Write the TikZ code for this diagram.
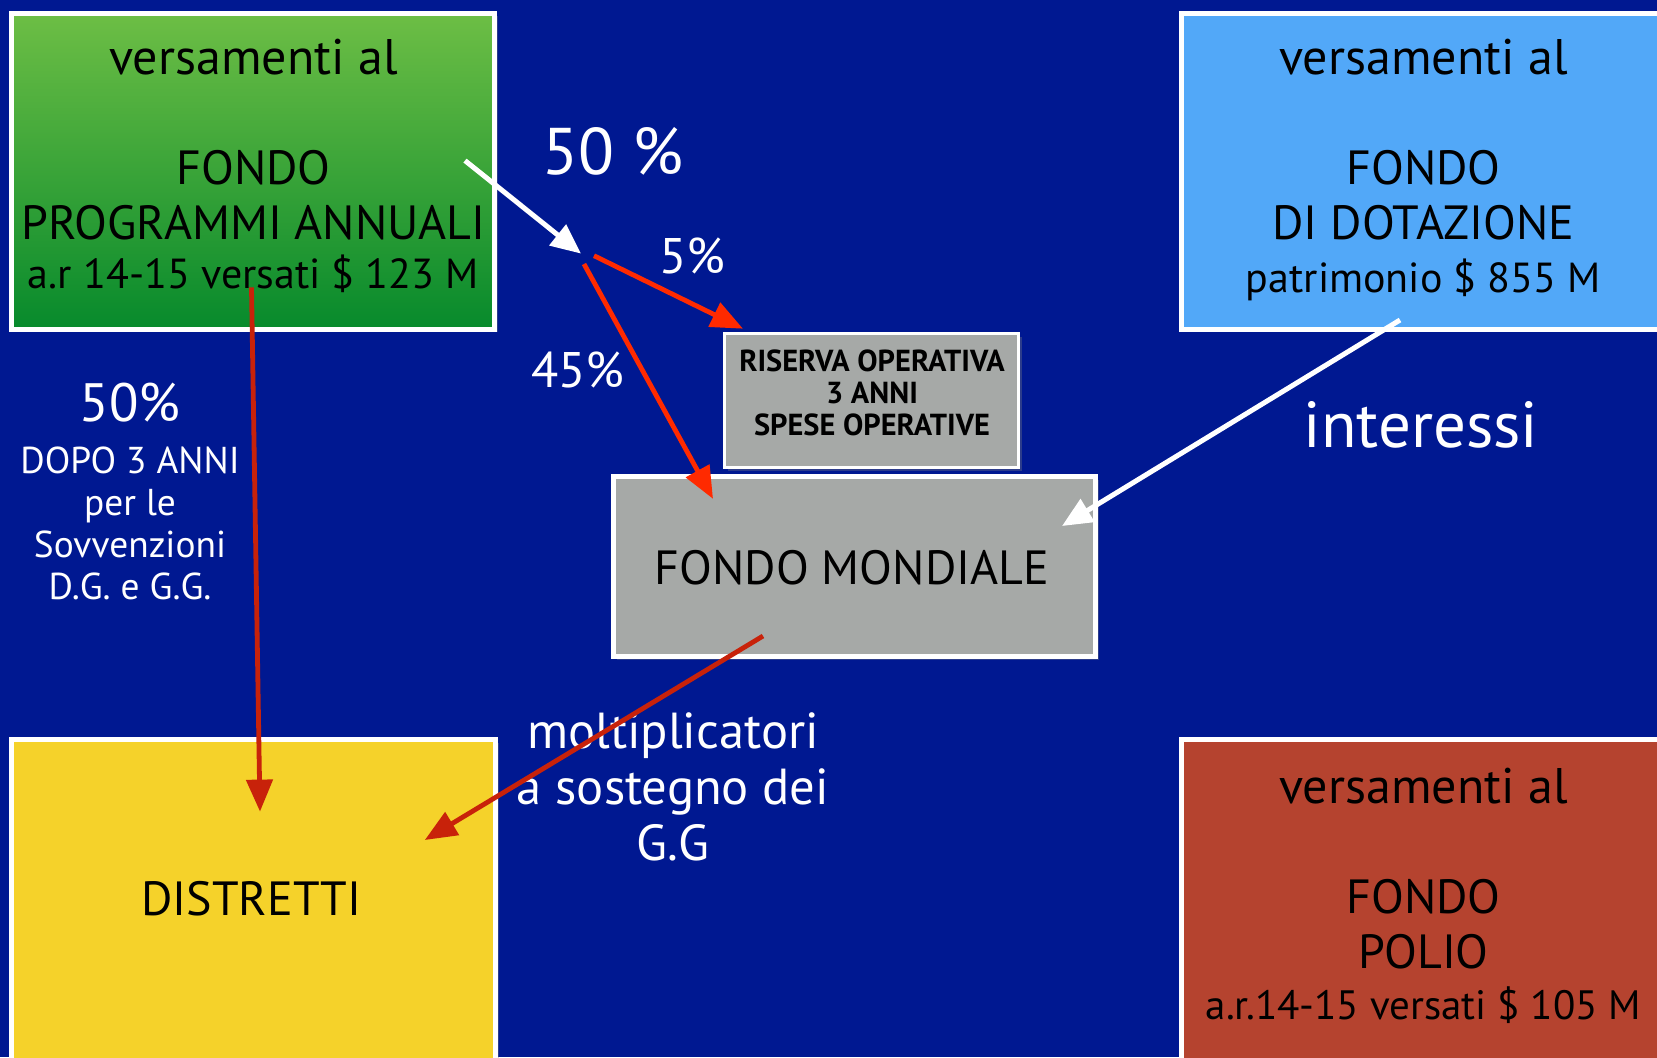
\documentclass[tikz,border=0pt]{standalone}
\usepackage{fontspec}
\setmainfont{PT Sans}
\usetikzlibrary{arrows.meta,shadows}
\definecolor{bgblue}{HTML}{001891}
\definecolor{gtop}{HTML}{6DBE45}
\definecolor{gbot}{HTML}{078A2C}
\definecolor{lblue}{HTML}{52A8F8}
\definecolor{ygold}{HTML}{F5D22A}
\definecolor{polred}{HTML}{B5432F}
\definecolor{boxgrey}{HTML}{A6A9A7}
\definecolor{redA}{HTML}{FF2A00}
\definecolor{redB}{HTML}{C8220A}
\newcommand{\firstln}[1]{{\fontsize{25}{27.5}\selectfont #1}}
\newcommand{\lastln}[1]{{\fontsize{21}{25}\selectfont #1}}
\tikzset{
  fbox/.style={draw=white, line width=2.5pt, inner sep=0pt, anchor=north west,
    drop shadow={opacity=0.35, shadow xshift=1.5pt, shadow yshift=-1.5pt}},
  boxtxt/.style={text=black, align=center, inner sep=0pt, font=\fontsize{24}{27.5}\selectfont},
  wlabel/.style={text=white, align=center, inner sep=0pt},
  warrow/.style={draw=white, line width=2.5pt, -{Triangle[length=15pt,width=13pt]}},
  rarrowA/.style={draw=redA, line width=2.4pt, -{Triangle[length=16pt,width=13pt]}},
  rarrowB/.style={draw=redB, line width=2.4pt, -{Triangle[length=16pt,width=13pt]}}
}
\begin{document}
\begin{tikzpicture}[x=0.5pt,y=-0.5pt]
\useasboundingbox (0,0) rectangle (1657,1057);
\clip (0,0) rectangle (1657,1057);
\fill[bgblue] (0,0) rectangle (1657,1057);

% boxes
\node[fbox, top color=gtop, bottom color=gbot, minimum width=241.5pt, minimum height=158pt] (green) at (9,10.5) {};
\node[fbox, fill=lblue, minimum width=260pt, minimum height=158pt] (blue) at (1179,10.5) {};
\node[fbox, fill=boxgrey, line width=1.5pt, minimum width=147pt, minimum height=67pt] (ris) at (723,332) {};
\node[fbox, fill=boxgrey, minimum width=241pt, minimum height=90pt] (mond) at (611,474) {};
\node[fbox, fill=ygold, minimum width=242pt, minimum height=200pt] (dist) at (9,737) {};
\node[fbox, fill=polred, minimum width=260pt, minimum height=200pt] (polio) at (1179,737) {};

% box texts
\node[boxtxt] (greentxt) at (253.5,166) {\firstln{versamenti al}\\[27.5pt]FONDO\\PROGRAMMI ANNUALI\\[-3pt]\lastln{a.r 14-15 versati \$ 123 M}};
\node[boxtxt] (bluetxt) at (1423.5,170) {\firstln{versamenti al}\\[27.5pt]FONDO\\DI DOTAZIONE\\[-1pt]\lastln{patrimonio \$ 855 M}};
\node[boxtxt, font=\bfseries\fontsize{15.2}{15.9}\selectfont] (ristxt) at (872,393) {RISERVA OPERATIVA\\3 ANNI\\SPESE OPERATIVE};
\node[boxtxt, font=\fontsize{24}{30}\selectfont] (mondtxt) at (852,567.5) {FONDO MONDIALE};
\node[boxtxt, font=\fontsize{24}{30}\selectfont] (disttxt) at (251.5,899) {DISTRETTI};
\node[boxtxt] (poliotxt) at (1423.5,896) {\firstln{versamenti al}\\[27.5pt]FONDO\\POLIO\\[-2pt]{\fontsize{20.5}{25}\selectfont a.r.14-15 versati \$ 105 M}};

% white labels
\node[wlabel, font=\fontsize{33}{40}\selectfont] (l50) at (613,151) {50 \%};
\node[wlabel, font=\fontsize{25}{30}\selectfont] (l5) at (692,256) {5\%};
\node[wlabel, font=\fontsize{25}{30}\selectfont] (l45) at (578,370) {45\%};
\node[wlabel, font=\fontsize{18.7}{21}\selectfont] (lleft) at (130,491) {{\fontsize{27}{27}\selectfont 50\%}\\[5pt]DOPO 3 ANNI\\per le\\Sovvenzioni\\D.G. e G.G.};
\node[wlabel, font=\fontsize{32.5}{36}\selectfont] (lint) at (1421,425) {interessi};
\node[wlabel, font=\fontsize{25.3}{28}\selectfont] (lmolt) at (673,787) {moltiplicatori\\a sostegno dei\\G.G};

% arrow end points
\coordinate (w1s) at (465,160.6);
\coordinate (w1e) at (581,253.6);
\coordinate (r1s) at (594,255.7);
\coordinate (r1e) at (743,328.7);
\coordinate (r2s) at (584,264);
\coordinate (r2e) at (713,498.8);
\coordinate (r3s) at (251.5,287.4);
\coordinate (r3e) at (260,811.6);
\coordinate (r4s) at (763,636);
\coordinate (r4e) at (424.8,840);
\coordinate (w2s) at (1400,320);
\coordinate (w2e) at (1062,526);

\draw[warrow] (w1s) -- (w1e);
\draw[rarrowA] (r1s) -- (r1e);
\draw[rarrowA] (r2s) -- (r2e);
\draw[rarrowB] (r3s) -- (r3e);
\draw[rarrowB] (r4s) -- (r4e);
\draw[warrow] (w2s) -- (w2e);
\end{tikzpicture}
\end{document}
